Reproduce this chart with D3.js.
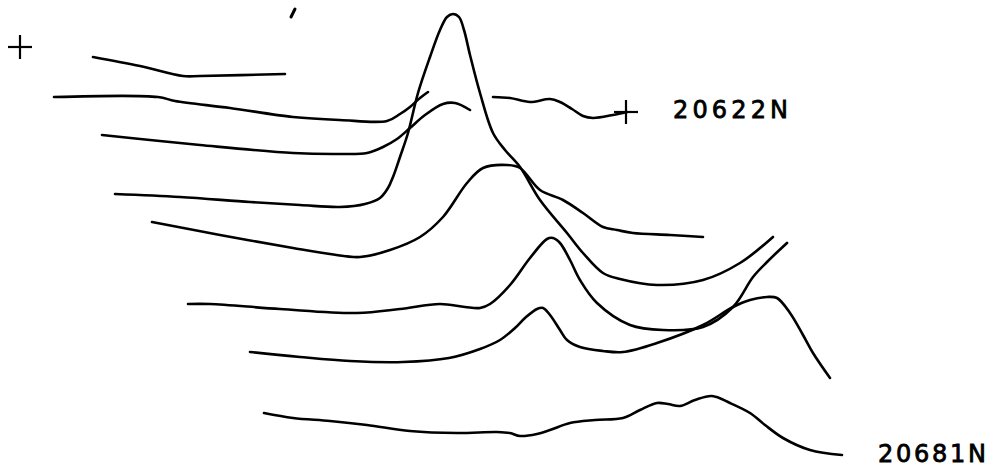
<!DOCTYPE html>
<html>
<head>
    <meta charset="utf-8">
    <title>Profiles 20622N - 20681N</title>
    <script type="text/javascript" src="https://d3js.org/d3.v7.min.js"></script>

    <style type="text/css">
        body { margin: 0; background: #fff; }
        .trace { fill: none; stroke: #000; stroke-width: 2.6; stroke-linejoin: round; stroke-linecap: round; }
        .mark { stroke: #000; stroke-width: 2.2; }
        .label { font-family: "DejaVu Sans", sans-serif; font-size: 24px; fill: #000; stroke: #000; stroke-width: 0.8; }
    </style>

    <script type="text/javascript">

        // traces, [distance, offset] in plot units, top to bottom
        var trace1a = [[93,57],[140,66],[183,76],[200,76],[285,74]];
        var trace1b = [[493,97],[510,98],[530,102],[550,99],[560,102],[572,109],[583,116],[593,118],[613,115],[627,112]];
        var trace2 = [[54,97],[158,97],[175,101],[230,108],[293,117],[340,120],[387,121],[400,114],[410,107],[420,98],[428,92]];
        var trace3 = [[102,135],[150,140],[200,145],[293,153],[340,154],[367,153],[383,147],[397,139],[410,128],[425,115],[443,104],[455,103],[470,110]];
        var trace4 = [[115,194],[180,197],[250,202],[300,205],[340,207],[365,204],[380,198],[388,188],[393,177],[400,157],[408,133],[418,93],[430,57],[440,30],[447,17],[453,14],[459,17],[464,30],[470,55],[480,93],[493,133],[505,150],[520,167],[540,200],[567,233],[583,253],[603,273],[620,279],[657,285],[703,280],[740,263],[773,237]];
        var trace5 = [[152,222],[220,235],[293,248],[330,254],[360,257],[390,250],[420,237],[443,217],[467,183],[483,168],[507,165],[520,168],[540,190],[563,200],[583,213],[603,227],[617,230],[633,233],[670,235],[703,237]];
        var trace6 = [[188,304],[210,304],[280,309],[357,313],[400,309],[440,304],[465,307],[480,308],[490,304],[510,285],[530,258],[547,239],[553,238],[560,243],[570,260],[580,280],[597,303],[630,325],[663,330],[703,327],[733,307],[753,277],[767,262],[787,243]];
        var trace7 = [[250,352],[300,357],[350,361],[403,362],[449,358],[480,349],[500,340],[515,328],[525,318],[537,309],[543,308],[550,315],[560,330],[567,340],[580,347],[603,351],[623,352],[657,343],[703,325],[733,307],[750,300],[767,297],[777,298],[790,313],[803,335],[813,353],[830,378]];
        var trace8 = [[264,413],[293,418],[330,421],[367,425],[410,431],[457,433],[497,432],[510,433],[520,436],[537,434],[550,430],[570,423],[595,420],[623,418],[640,410],[657,403],[668,404],[680,406],[695,400],[712,396],[730,403],[750,413],[765,425],[783,438],[810,450],[842,455]];

        var traces = [trace1a, trace1b, trace2, trace3, trace4, trace5, trace6, trace7, trace8];

        // registration crosses and the stray tick
        var crosses = [[20,47],[626,112]];
        var tick = [[291,17],[295,9]];

        var labels = ["20622N", "20681N"];
        var labelPos = [[673,118],[878,462]];
        var labelLen = [115, 108];

        function draw() {
            var width = 992, height = 469;

            var x = d3.scaleLinear().domain([0, 992]).range([0, width]);
            var y = d3.scaleLinear().domain([0, 469]).range([0, height]);

            var svg = d3.select("body").append("svg")
                .attr("width", width)
                .attr("height", height);

            var line = d3.line()
                .x(function(d) { return x(d[0]); })
                .y(function(d) { return y(d[1]); })
                .curve(d3.curveCatmullRom.alpha(0.5));

            svg.selectAll(".trace")
                .data(traces)
                .enter().append("path")
                .attr("class", "trace")
                .attr("d", line);

            svg.append("path")
                .attr("class", "trace")
                .attr("d", d3.line().x(d => x(d[0])).y(d => y(d[1]))(tick))
                .style("stroke-width", 3);

            var arm = 12;
            var g = svg.selectAll(".cross")
                .data(crosses)
                .enter().append("g")
                .attr("class", "cross");
            g.append("line").attr("class", "mark")
                .attr("x1", d => x(d[0]) - arm).attr("x2", d => x(d[0]) + arm)
                .attr("y1", d => y(d[1])).attr("y2", d => y(d[1]));
            g.append("line").attr("class", "mark")
                .attr("x1", d => x(d[0])).attr("x2", d => x(d[0]))
                .attr("y1", d => y(d[1]) - arm).attr("y2", d => y(d[1]) + arm);

            svg.selectAll(".label")
                .data(labels)
                .enter().append("text")
                .attr("class", "label")
                .attr("x", (d, i) => x(labelPos[i][0]))
                .attr("y", (d, i) => y(labelPos[i][1]))
                .attr("textLength", (d, i) => labelLen[i])
                .attr("lengthAdjust", "spacing")
                .text(d => d);
        }

    </script>
</head>
<body>
    <script type="text/javascript">
        draw();
    </script>
</body>
</html>
